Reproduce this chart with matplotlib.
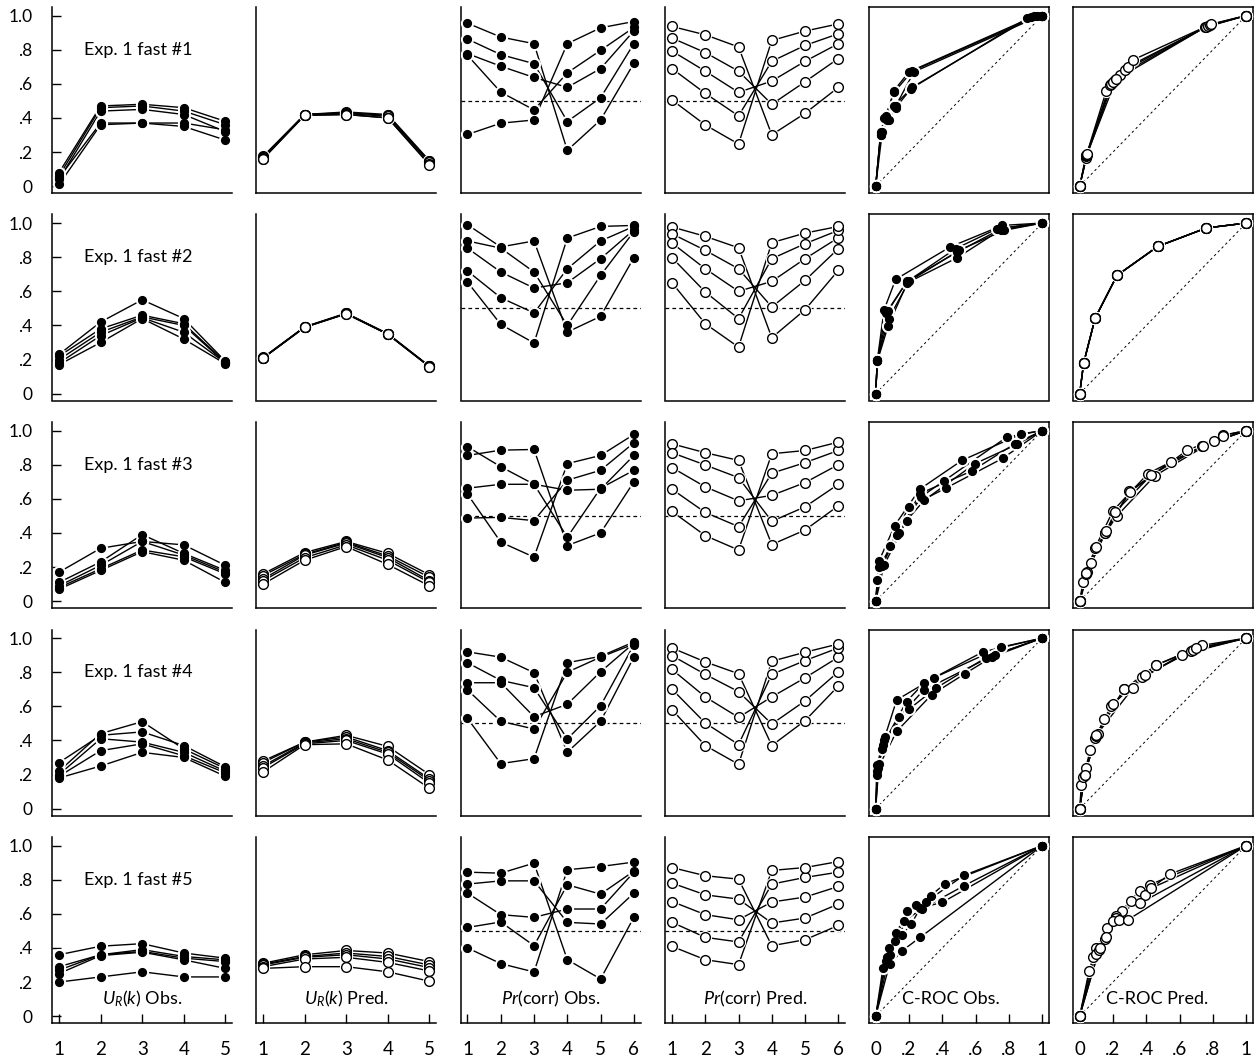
import matplotlib
matplotlib.use("Agg")
import matplotlib.pyplot as plt

plt.rcParams['font.family'] = ['Lato', 'DejaVu Sans']
plt.rcParams['mathtext.fontset'] = 'custom'
plt.rcParams['mathtext.rm'] = 'Lato'
plt.rcParams['mathtext.it'] = 'Lato:italic'

k5 = [1, 2, 3, 4, 5]
k6 = [1, 2, 3, 4, 5, 6]
row_names = ["Exp. 1 fast #1", "Exp. 1 fast #2", "Exp. 1 fast #3",
             "Exp. 1 fast #4", "Exp. 1 fast #5"]
col_labels = [r"$U_R(k)$ Obs.", r"$U_R(k)$ Pred.", r"$Pr$(corr) Obs.",
              r"$Pr$(corr) Pred.", "C-ROC Obs.", "C-ROC Pred."]
roc_ticks = [0, .2, .4, .6, .8, 1]
roc_ticklabels = ['0', '.2', '.4', '.6', '.8', '1']
y_ticks = [0, .2, .4, .6, .8, 1.0]
y_ticklabels = ['0', '.2', '.4', '.6', '.8', '1.0']

# ---------------- row 1 ----------------
ur_obs_1 = [[0.08, 0.47, 0.48, 0.46, 0.38],
            [0.06, 0.46, 0.47, 0.44, 0.36],
            [0.04, 0.44, 0.45, 0.42, 0.32],
            [0.05, 0.37, 0.37, 0.37, 0.33],
            [0.01, 0.36, 0.37, 0.35, 0.27]]
ur_pred_1 = [[0.175, 0.42, 0.435, 0.42, 0.15],
             [0.17, 0.42, 0.43, 0.415, 0.145],
             [0.165, 0.42, 0.425, 0.41, 0.14],
             [0.16, 0.415, 0.42, 0.40, 0.13],
             [0.16, 0.415, 0.42, 0.40, 0.125]]
pc_obs_1 = [[0.955, 0.874, 0.835, 0.21, 0.388, 0.72],
            [0.862, 0.771, 0.718, 0.379, 0.518, 0.835],
            [0.777, 0.703, 0.637, 0.579, 0.689, 0.91],
            [0.767, 0.551, 0.447, 0.664, 0.796, 0.93],
            [0.303, 0.369, 0.388, 0.835, 0.928, 0.965]]
pc_pred_1 = [[0.936, 0.887, 0.816, 0.301, 0.427, 0.579],
             [0.868, 0.783, 0.674, 0.48, 0.612, 0.748],
             [0.792, 0.674, 0.55, 0.616, 0.732, 0.835],
             [0.689, 0.544, 0.412, 0.732, 0.825, 0.893],
             [0.505, 0.359, 0.247, 0.854, 0.909, 0.951]]
roc_obs_x_1 = [[0, 0.03, 0.06, 0.11, 0.20, 0.95, 1],
               [0, 0.03, 0.06, 0.11, 0.22, 0.97, 1],
               [0, 0.03, 0.07, 0.12, 0.23, 0.99, 1],
               [0, 0.03, 0.05, 0.11, 0.21, 0.91, 1],
               [0, 0.04, 0.08, 0.12, 0.22, 0.93, 1]]
roc_obs_y_1 = [[0, 0.30, 0.40, 0.56, 0.67, 0.995, 1],
               [0, 0.31, 0.41, 0.55, 0.675, 0.997, 1],
               [0, 0.32, 0.39, 0.47, 0.67, 1.0, 1],
               [0, 0.30, 0.40, 0.47, 0.57, 0.985, 1],
               [0, 0.32, 0.39, 0.46, 0.58, 0.99, 1]]
roc_pred_x_1 = [[0, 0.035, 0.16, 0.21, 0.75, 1],
                [0, 0.04, 0.18, 0.24, 0.76, 1],
                [0, 0.04, 0.19, 0.27, 0.77, 1],
                [0, 0.045, 0.20, 0.29, 0.78, 1],
                [0, 0.045, 0.22, 0.32, 0.79, 1]]
roc_pred_y_1 = [[0, 0.165, 0.56, 0.62, 0.93, 1],
                [0, 0.175, 0.59, 0.65, 0.935, 1],
                [0, 0.18, 0.60, 0.68, 0.94, 1],
                [0, 0.185, 0.61, 0.70, 0.945, 1],
                [0, 0.19, 0.63, 0.74, 0.95, 1]]

# ---------------- row 2 ----------------
ur_obs_2 = [[0.23, 0.42, 0.55, 0.44, 0.19],
            [0.22, 0.38, 0.46, 0.41, 0.185],
            [0.20, 0.36, 0.45, 0.40, 0.18],
            [0.18, 0.34, 0.445, 0.36, 0.18],
            [0.17, 0.30, 0.44, 0.32, 0.175]]
ur_pred_2 = [[0.212, 0.392, 0.472, 0.352, 0.162],
             [0.21, 0.39, 0.47, 0.35, 0.16],
             [0.21, 0.39, 0.47, 0.35, 0.16],
             [0.208, 0.39, 0.468, 0.348, 0.158],
             [0.208, 0.388, 0.468, 0.348, 0.158]]
pc_obs_2 = [[0.99, 0.86, 0.895, 0.361, 0.453, 0.797],
            [0.895, 0.853, 0.713, 0.40, 0.693, 0.95],
            [0.853, 0.713, 0.619, 0.65, 0.791, 0.96],
            [0.719, 0.5625, 0.473, 0.732, 0.895, 0.98],
            [0.654, 0.406, 0.297, 0.912, 0.98, 0.986]]
pc_pred_2 = [[0.977, 0.922, 0.855, 0.328, 0.492, 0.723],
             [0.937, 0.84, 0.732, 0.508, 0.664, 0.85],
             [0.883, 0.732, 0.60, 0.658, 0.791, 0.914],
             [0.797, 0.596, 0.44, 0.791, 0.879, 0.957],
             [0.65, 0.41, 0.273, 0.885, 0.941, 0.98]]
roc_obs_x_2 = [[0, 0.01, 0.05, 0.12, 0.447, 0.76, 1],
               [0, 0.01, 0.074, 0.185, 0.48, 0.73, 1],
               [0, 0.01, 0.078, 0.20, 0.50, 0.77, 1],
               [0, 0.01, 0.074, 0.19, 0.49, 0.75, 1],
               [0, 0.01, 0.06, 0.19, 0.49, 0.76, 1]]
roc_obs_y_2 = [[0, 0.195, 0.49, 0.67, 0.86, 0.986, 1],
               [0, 0.19, 0.484, 0.654, 0.85, 0.967, 1],
               [0, 0.20, 0.44, 0.658, 0.84, 0.957, 1],
               [0, 0.19, 0.395, 0.65, 0.797, 0.96, 1],
               [0, 0.20, 0.47, 0.66, 0.83, 0.97, 1]]
roc_pred_x_2 = [[0, 0.024, 0.093, 0.224, 0.469, 0.76, 1]] * 5
roc_pred_y_2 = [[0, 0.18, 0.443, 0.693, 0.863, 0.971, 1]] * 5

# ---------------- row 3 ----------------
ur_obs_3 = [[0.17, 0.31, 0.35, 0.33, 0.21],
            [0.11, 0.23, 0.39, 0.28, 0.18],
            [0.09, 0.21, 0.35, 0.27, 0.17],
            [0.08, 0.19, 0.30, 0.26, 0.16],
            [0.07, 0.18, 0.29, 0.24, 0.11]]
ur_pred_3 = [[0.16, 0.285, 0.35, 0.28, 0.155],
             [0.15, 0.275, 0.345, 0.265, 0.14],
             [0.13, 0.27, 0.34, 0.255, 0.12],
             [0.12, 0.255, 0.33, 0.24, 0.11],
             [0.10, 0.24, 0.32, 0.215, 0.09]]
pc_obs_3 = [[0.854, 0.885, 0.889, 0.326, 0.40, 0.699],
            [0.905, 0.788, 0.685, 0.375, 0.662, 0.767],
            [0.662, 0.685, 0.685, 0.65, 0.656, 0.854],
            [0.487, 0.491, 0.472, 0.709, 0.767, 0.928],
            [0.627, 0.346, 0.258, 0.806, 0.854, 0.977]]
pc_pred_3 = [[0.922, 0.87, 0.825, 0.332, 0.417, 0.559],
             [0.87, 0.798, 0.724, 0.468, 0.553, 0.685],
             [0.783, 0.67, 0.588, 0.62, 0.695, 0.80],
             [0.656, 0.52, 0.437, 0.75, 0.812, 0.883],
             [0.526, 0.384, 0.30, 0.864, 0.883, 0.932]]
roc_obs_x_3 = [[0, 0.02, 0.114, 0.264, 0.518, 0.874, 1],
               [0, 0.036, 0.13, 0.273, 0.41, 0.786, 1],
               [0, 0.05, 0.185, 0.292, 0.596, 0.85, 1],
               [0, 0.01, 0.086, 0.197, 0.42, 0.762, 1],
               [0, 0.02, 0.138, 0.264, 0.577, 0.834, 1]]
roc_obs_y_3 = [[0, 0.235, 0.443, 0.656, 0.825, 0.98, 1],
               [0, 0.204, 0.39, 0.612, 0.705, 0.961, 1],
               [0, 0.21, 0.472, 0.592, 0.806, 0.92, 1],
               [0, 0.126, 0.326, 0.55, 0.662, 0.837, 1],
               [0, 0.20, 0.398, 0.63, 0.763, 0.922, 1]]
roc_pred_x_3 = [[0, 0.02, 0.093, 0.20, 0.41, 0.736, 1],
                [0, 0.04, 0.152, 0.298, 0.545, 0.807, 1],
                [0, 0.045, 0.10, 0.224, 0.45, 0.862, 1],
                [0, 0.07, 0.15, 0.30, 0.643, 0.86, 1],
                [0, 0.04, 0.16, 0.21, 0.43, 0.74, 1]]
roc_pred_y_3 = [[0, 0.113, 0.313, 0.53, 0.748, 0.909, 1],
                [0, 0.16, 0.40, 0.643, 0.817, 0.938, 1],
                [0, 0.171, 0.32, 0.50, 0.734, 0.973, 1],
                [0, 0.225, 0.40, 0.64, 0.883, 0.97, 1],
                [0, 0.165, 0.41, 0.52, 0.74, 0.91, 1]]

# ---------------- row 4 ----------------
ur_obs_4 = [[0.27, 0.43, 0.45, 0.37, 0.245],
            [0.22, 0.44, 0.51, 0.35, 0.235],
            [0.20, 0.41, 0.39, 0.33, 0.22],
            [0.19, 0.34, 0.38, 0.31, 0.21],
            [0.18, 0.25, 0.33, 0.30, 0.19]]
ur_pred_4 = [[0.28, 0.39, 0.43, 0.365, 0.20],
             [0.27, 0.39, 0.42, 0.34, 0.175],
             [0.25, 0.385, 0.41, 0.33, 0.165],
             [0.24, 0.38, 0.40, 0.32, 0.15],
             [0.215, 0.375, 0.38, 0.285, 0.12]]
pc_obs_4 = [[0.919, 0.888, 0.797, 0.331, 0.512, 0.888],
            [0.855, 0.752, 0.709, 0.409, 0.603, 0.96],
            [0.738, 0.738, 0.539, 0.612, 0.802, 0.97],
            [0.696, 0.512, 0.467, 0.80, 0.888, 0.965],
            [0.529, 0.264, 0.293, 0.855, 0.893, 0.977]]
pc_pred_4 = [[0.942, 0.86, 0.791, 0.37, 0.516, 0.719],
             [0.897, 0.787, 0.686, 0.496, 0.632, 0.802],
             [0.816, 0.655, 0.535, 0.655, 0.767, 0.888],
             [0.70, 0.502, 0.376, 0.787, 0.868, 0.942],
             [0.58, 0.37, 0.26, 0.864, 0.917, 0.965]]
roc_obs_x_4 = [[0, 0.007, 0.055, 0.126, 0.35, 0.75, 1],
               [0, 0.01, 0.043, 0.185, 0.292, 0.644, 1],
               [0, 0.02, 0.036, 0.138, 0.287, 0.715, 1],
               [0, 0.01, 0.05, 0.20, 0.359, 0.66, 1],
               [0, 0.015, 0.126, 0.335, 0.534, 0.70, 1]]
roc_obs_y_4 = [[0, 0.254, 0.42, 0.637, 0.767, 0.946, 1],
               [0, 0.20, 0.376, 0.628, 0.738, 0.919, 1],
               [0, 0.26, 0.35, 0.535, 0.694, 0.903, 1],
               [0, 0.22, 0.40, 0.583, 0.705, 0.884, 1],
               [0, 0.24, 0.453, 0.667, 0.79, 0.89, 1]]
roc_pred_x_4 = [[0, 0.01, 0.064, 0.148, 0.267, 0.612, 1],
                [0, 0.021, 0.093, 0.188, 0.374, 0.667, 1],
                [0, 0.029, 0.10, 0.20, 0.393, 0.679, 1],
                [0, 0.04, 0.107, 0.267, 0.457, 0.736, 1],
                [0, 0.03, 0.10, 0.321, 0.457, 0.70, 1]]
roc_pred_y_4 = [[0, 0.138, 0.345, 0.525, 0.70, 0.903, 1],
                [0, 0.186, 0.415, 0.603, 0.771, 0.922, 1],
                [0, 0.196, 0.428, 0.616, 0.783, 0.932, 1],
                [0, 0.238, 0.438, 0.70, 0.841, 0.957, 1],
                [0, 0.20, 0.43, 0.709, 0.84, 0.94, 1]]

# ---------------- row 5 ----------------
ur_obs_5 = [[0.36, 0.41, 0.425, 0.37, 0.34],
            [0.29, 0.36, 0.39, 0.35, 0.33],
            [0.27, 0.36, 0.38, 0.34, 0.32],
            [0.25, 0.355, 0.375, 0.33, 0.28],
            [0.20, 0.23, 0.26, 0.23, 0.23]]
ur_pred_5 = [[0.31, 0.36, 0.385, 0.37, 0.32],
             [0.305, 0.35, 0.37, 0.35, 0.30],
             [0.30, 0.345, 0.36, 0.335, 0.285],
             [0.29, 0.335, 0.345, 0.315, 0.265],
             [0.28, 0.29, 0.29, 0.26, 0.205]]
pc_obs_5 = [[0.844, 0.838, 0.897, 0.331, 0.218, 0.579],
            [0.774, 0.793, 0.793, 0.55, 0.54, 0.721],
            [0.721, 0.595, 0.579, 0.628, 0.628, 0.844],
            [0.52, 0.552, 0.413, 0.77, 0.715, 0.85],
            [0.40, 0.308, 0.259, 0.858, 0.877, 0.903]]
pc_pred_5 = [[0.871, 0.823, 0.803, 0.413, 0.448, 0.532],
             [0.78, 0.711, 0.686, 0.546, 0.575, 0.657],
             [0.672, 0.595, 0.565, 0.669, 0.698, 0.76],
             [0.55, 0.462, 0.435, 0.774, 0.813, 0.844],
             [0.409, 0.331, 0.302, 0.854, 0.871, 0.906]]
roc_obs_x_5 = [[0, 0.044, 0.124, 0.188, 0.30, 0.529, 1],
               [0, 0.06, 0.114, 0.244, 0.33, 0.413, 1],
               [0, 0.068, 0.08, 0.168, 0.279, 0.529, 1],
               [0, 0.084, 0.16, 0.214, 0.267, 0.40, 1],
               [0, 0.084, 0.16, 0.267, 1]]
roc_obs_y_5 = [[0, 0.283, 0.487, 0.614, 0.669, 0.825, 1],
               [0, 0.326, 0.44, 0.653, 0.706, 0.774, 1],
               [0, 0.345, 0.40, 0.556, 0.63, 0.764, 1],
               [0, 0.36, 0.478, 0.54, 0.634, 0.667, 1],
               [0, 0.306, 0.384, 0.462, 1]]
roc_pred_x_5 = [[0, 0.056, 0.10, 0.164, 0.255, 0.539, 1],
                [0, 0.08, 0.15, 0.22, 0.359, 0.419, 1],
                [0, 0.096, 0.16, 0.216, 0.389, 0.429, 1],
                [0, 0.116, 0.20, 0.31, 0.363, 1],
                [0, 0.12, 0.236, 0.29, 1]]
roc_pred_y_5 = [[0, 0.263, 0.40, 0.517, 0.618, 0.832, 1],
                [0, 0.345, 0.454, 0.585, 0.735, 0.77, 1],
                [0, 0.365, 0.462, 0.575, 0.708, 0.75, 1],
                [0, 0.39, 0.556, 0.673, 0.663, 1],
                [0, 0.40, 0.565, 0.565, 1]]

ur_obs = [ur_obs_1, ur_obs_2, ur_obs_3, ur_obs_4, ur_obs_5]
ur_pred = [ur_pred_1, ur_pred_2, ur_pred_3, ur_pred_4, ur_pred_5]
pc_obs = [pc_obs_1, pc_obs_2, pc_obs_3, pc_obs_4, pc_obs_5]
pc_pred = [pc_pred_1, pc_pred_2, pc_pred_3, pc_pred_4, pc_pred_5]
roc_obs = [(roc_obs_x_1, roc_obs_y_1), (roc_obs_x_2, roc_obs_y_2), (roc_obs_x_3, roc_obs_y_3),
           (roc_obs_x_4, roc_obs_y_4), (roc_obs_x_5, roc_obs_y_5)]
roc_pred = [(roc_pred_x_1, roc_pred_y_1), (roc_pred_x_2, roc_pred_y_2), (roc_pred_x_3, roc_pred_y_3),
            (roc_pred_x_4, roc_pred_y_4), (roc_pred_x_5, roc_pred_y_5)]

W, H = 1260, 1061
col_left = [52, 256, 460.5, 665, 869, 1073]
row_top = [7, 214.5, 422, 629.5, 837]
pw, ph = 180, 186


def draw_series(ax, xs, ys, filled):
    for x, y in zip(xs, ys):
        ax.plot(x, y, color='black', lw=1.0, zorder=2)
    for x, y in zip(xs, ys):
        ax.plot(x, y, ls='none', marker='o', ms=8.5, mfc='white', mec='white', zorder=3)
    for x, y in zip(xs, ys):
        if filled:
            ax.plot(x, y, ls='none', marker='o', ms=5.6, mfc='black', mec='black', zorder=4)
        else:
            ax.plot(x, y, ls='none', marker='o', ms=7, mfc='white', mec='black', mew=1.0, zorder=4)


fig = plt.figure(figsize=(W / 100, H / 100), dpi=100)

for r in range(5):
    last = r == 4
    for c in range(6):
        ax = fig.add_axes([col_left[c] / W, 1 - (row_top[r] + ph) / H, pw / W, ph / H])
        ax.set_ylim(-0.04, 1.05)
        for s in ax.spines.values():
            s.set_linewidth(1.1)
        if c < 4:
            ax.spines['top'].set_visible(False)
            ax.spines['right'].set_visible(False)

        if c == 0:
            draw_series(ax, [k5] * len(ur_obs[r]), ur_obs[r], True)
        elif c == 1:
            draw_series(ax, [k5] * len(ur_pred[r]), ur_pred[r], False)
        elif c == 2:
            draw_series(ax, [k6] * len(pc_obs[r]), pc_obs[r], True)
        elif c == 3:
            draw_series(ax, [k6] * len(pc_pred[r]), pc_pred[r], False)
        elif c == 4:
            draw_series(ax, roc_obs[r][0], roc_obs[r][1], True)
        else:
            draw_series(ax, roc_pred[r][0], roc_pred[r][1], False)

        if c < 2:
            ax.set_xlim(0.83, 5.16)
            ax.set_xticks(k5)
        elif c < 4:
            ax.set_xlim(0.79, 6.2)
            ax.set_xticks(k6)
            ax.axhline(0.5, color='black', lw=0.9, ls=(0, (3, 2.5)), zorder=1)
        else:
            ax.set_xlim(-0.04, 1.04)
            ax.set_xticks(roc_ticks)
            ax.set_xticklabels(roc_ticklabels)
            ax.plot([0, 1], [0, 1], color='black', lw=0.7, ls=(0, (2.5, 3)), zorder=1)

        if c == 0:
            ax.set_yticks(y_ticks)
            ax.set_yticklabels(y_ticklabels)
            ax.tick_params(axis='y', direction='in', length=6.5, width=1, pad=14, labelsize=12.5)
            ax.text(1.59, 0.8, row_names[r], fontsize=13, ha='left', va='center')
        else:
            ax.set_yticks([])

        if last:
            ax.tick_params(axis='x', direction='in', length=6.5, width=1, pad=13, labelsize=13.5)
            if c < 4:
                xc = 3 if c < 2 else 3.5
                ax.text(xc, 0.10, col_labels[c], fontsize=13, ha='center', va='center')
            else:
                ax.text(0.16, 0.10, col_labels[c], fontsize=13, ha='left', va='center')
        else:
            ax.set_xticks([])

fig.savefig("out.png", dpi=100)
